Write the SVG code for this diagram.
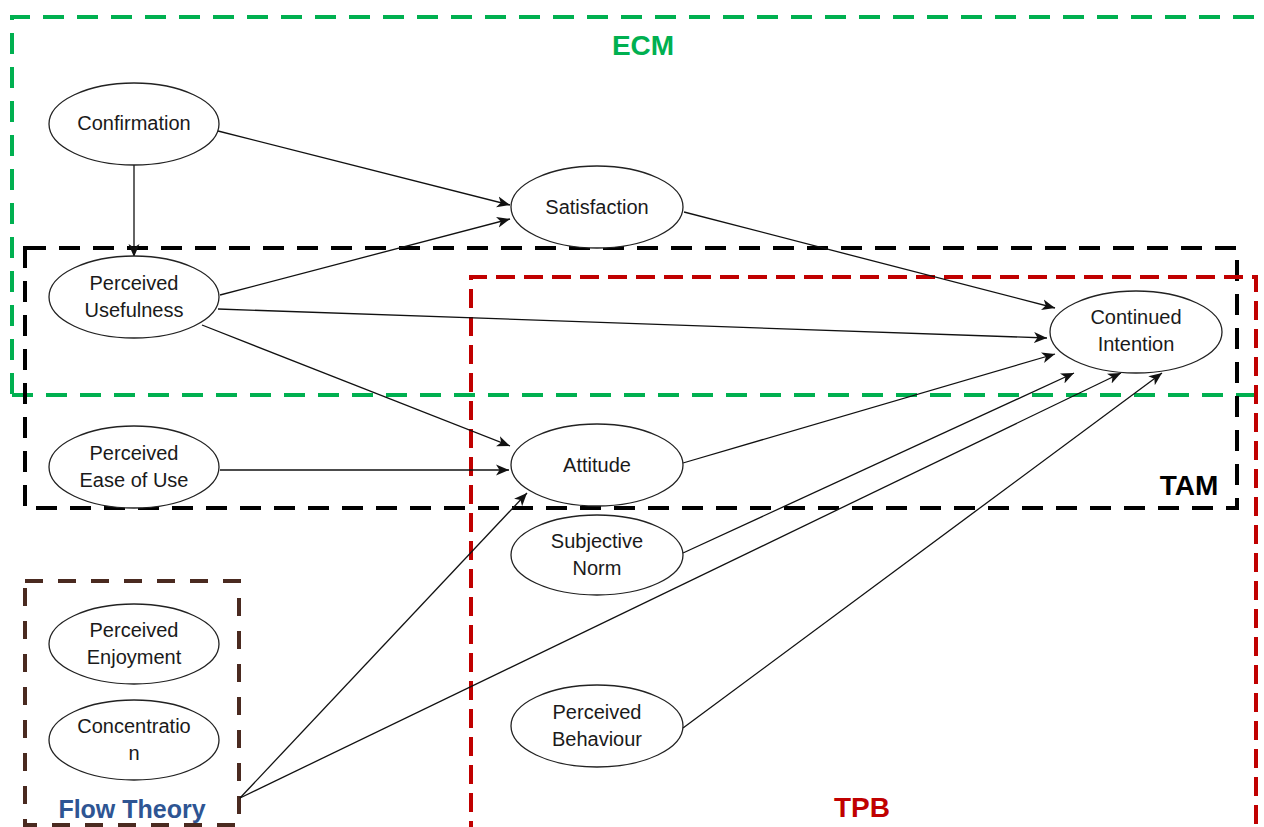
<svg xmlns="http://www.w3.org/2000/svg" width="1264" height="827" viewBox="0 0 1264 827">
<style>
.node ellipse{fill:#fff;stroke:#222;stroke-width:1.3}
.node text{font-family:"Liberation Sans",Arial,sans-serif;font-size:20px;fill:#1a1a1a;text-anchor:middle}
.conn line{stroke:#111;stroke-width:1.3;marker-end:url(#arr)}
.box{fill:none;stroke-width:4}
.lbl{font-family:"Liberation Sans",Arial,sans-serif;font-weight:bold;text-anchor:middle}
</style>
<defs>
<marker id="arr" markerUnits="userSpaceOnUse" markerWidth="14" markerHeight="12" refX="13" refY="6" orient="auto">
<path d="M0,0.5 L13,6 L0,11.5 L3.5,6 z" fill="#111"/>
</marker>
</defs>
<rect width="1264" height="827" fill="#fff"/>
<g id="frames">
<path class="box" d="M12,394 L12,17 L1270,17 M12,395 L1270,395" stroke="#00B050" stroke-dasharray="21 13"/>
<rect class="box" x="25" y="248" width="1212" height="260" stroke="#000" stroke-dasharray="21 13"/>
<path class="box" d="M471,840 L471,277 L1256,277 L1256,840" stroke="#C00000" stroke-dasharray="19 9"/>
<rect class="box" x="25" y="581" width="214" height="244" stroke="#4A2A20" stroke-width="3.5" stroke-dasharray="18 15"/>
<text class="lbl" x="643" y="55" font-size="28" fill="#00B050">ECM</text>
<text class="lbl" x="1189" y="495" font-size="28" fill="#000">TAM</text>
<text class="lbl" x="862" y="817" font-size="28" fill="#C00000">TPB</text>
<text class="lbl" x="132" y="818" font-size="25" fill="#2E5593">Flow Theory</text>
</g>
<g id="connectors" class="conn">
<line x1="134" y1="165" x2="134" y2="257"/>
<line x1="218" y1="131" x2="510" y2="205"/>
<line x1="220" y1="295" x2="510" y2="219"/>
<line x1="218" y1="309" x2="1047" y2="338"/>
<line x1="202" y1="325" x2="510" y2="446"/>
<line x1="220" y1="470" x2="509" y2="470"/>
<line x1="684" y1="212" x2="1055" y2="308"/>
<line x1="683" y1="463" x2="1055" y2="354"/>
<line x1="683" y1="553" x2="1074" y2="373"/>
<line x1="683" y1="728" x2="1162" y2="373"/>
<line x1="240" y1="798" x2="527" y2="493"/>
<line x1="240" y1="798" x2="1121" y2="373"/>
</g>
<g id="confirmation" class="node"><ellipse cx="134" cy="124" rx="85" ry="41"/><text x="134" y="130">Confirmation</text></g>
<g id="perceived-usefulness" class="node"><ellipse cx="134" cy="297" rx="85" ry="41"/><text x="134" y="290">Perceived</text><text x="134" y="317">Usefulness</text></g>
<g id="perceived-ease-of-use" class="node"><ellipse cx="134" cy="467" rx="85" ry="41"/><text x="134" y="460">Perceived</text><text x="134" y="487">Ease of Use</text></g>
<g id="perceived-enjoyment" class="node"><ellipse cx="134" cy="644" rx="85" ry="40"/><text x="134" y="637">Perceived</text><text x="134" y="664">Enjoyment</text></g>
<g id="concentration" class="node"><ellipse cx="134" cy="740" rx="85" ry="40"/><text x="134" y="733">Concentratio</text><text x="134" y="760">n</text></g>
<g id="satisfaction" class="node"><ellipse cx="597" cy="207" rx="86" ry="41"/><text x="597" y="214">Satisfaction</text></g>
<g id="attitude" class="node"><ellipse cx="597" cy="465" rx="86" ry="41"/><text x="597" y="472">Attitude</text></g>
<g id="subjective-norm" class="node"><ellipse cx="597" cy="555" rx="86" ry="40"/><text x="597" y="548">Subjective</text><text x="597" y="575">Norm</text></g>
<g id="perceived-behaviour" class="node"><ellipse cx="597" cy="726" rx="86" ry="41"/><text x="597" y="719">Perceived</text><text x="597" y="746">Behaviour</text></g>
<g id="continued-intention" class="node"><ellipse cx="1136" cy="332" rx="86" ry="41"/><text x="1136" y="324">Continued</text><text x="1136" y="351">Intention</text></g>
</svg>
